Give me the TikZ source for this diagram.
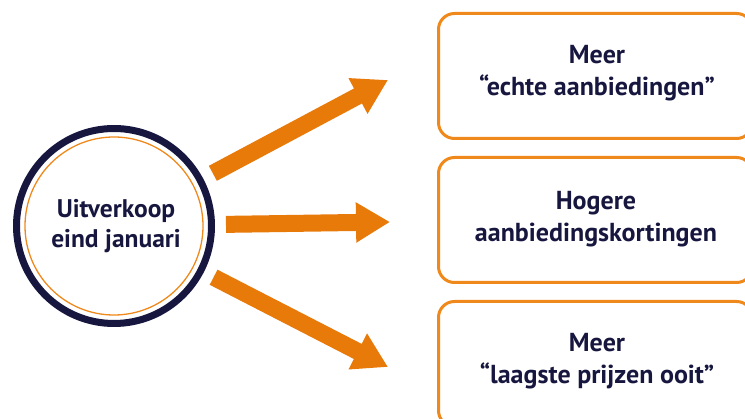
\documentclass[tikz,border=0pt]{standalone}
\usepackage{fontspec}
\setmainfont{PT Sans}
\usetikzlibrary{arrows.meta}
\definecolor{navy}{HTML}{16163F}
\definecolor{orng}{HTML}{E87A0A}
\definecolor{borng}{HTML}{F0891C}
\begin{document}
\begin{tikzpicture}[x=1pt,y=-1pt,
  txt/.style={font=\bfseries\fontsize{26}{32}\selectfont, text=navy, align=center},
  box/.style={draw=borng, line width=3pt, rounded corners=16pt, minimum width=314pt, minimum height=125pt, inner sep=0pt},
  bigarrow/.style={draw=orng, line width=17pt, -{Triangle[width=38pt,length=34pt]}, shorten <=11pt}]
\useasboundingbox (0,0) rectangle (745,419);
\clip (0,0) rectangle (745,419);
% central circle
\node[circle, draw=navy, line width=7pt, minimum size=195pt, inner sep=0pt] (c) at (114,226) {};
\draw[borng, line width=1.3pt] (c.center) circle (89pt);
\node[txt, font=\bfseries\fontsize{25.5}{30}\selectfont] (ct) at (116,226) {Uitverkoop\\eind januari};
% boxes
\node[box, anchor=north west] (b1) at (437,12) {};
\node[box, anchor=north west] (b2) at (437,156) {};
\node[box, anchor=north west] (b3) at (437,300) {};
\node[txt] (t1txt) at (597,73) {Meer\\“echte aanbiedingen”};
\node[txt] (t2txt) at (596,219) {Hogere\\aanbiedingskortingen};
\node[txt] (t3txt) at (597,361) {Meer\\“laagste prijzen ooit”};
% arrow tips
\coordinate (e1) at (388,80);
\coordinate (e2) at (390,222);
\coordinate (e3) at (388,367);
\draw[bigarrow] (c) -- (e1);
\draw[bigarrow] (c) -- (e2);
\draw[bigarrow] (c) -- (e3);
\end{tikzpicture}
\end{document}
